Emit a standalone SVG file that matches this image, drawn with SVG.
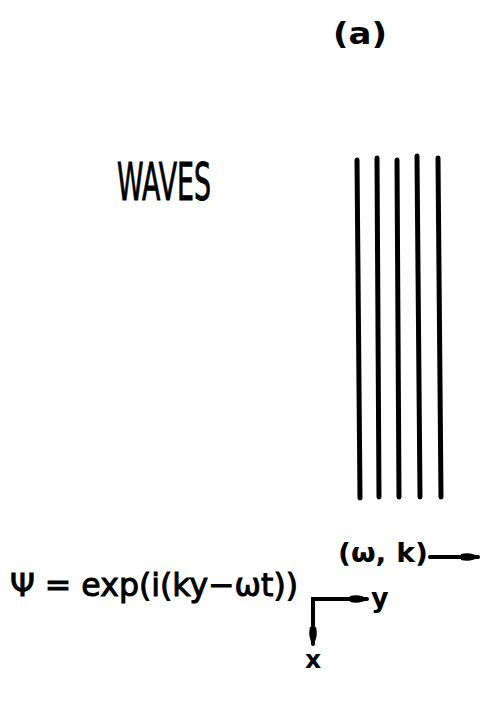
<svg xmlns="http://www.w3.org/2000/svg" width="482" height="703" viewBox="0 0 482 703">
<style>
.hand{font-family:"DejaVu Sans","Liberation Sans",sans-serif;fill:#000}
.thick{stroke:#000;stroke-width:1}
.wave{stroke:#000;stroke-width:5;stroke-linecap:round;fill:none}
.ln{stroke:#000;stroke-width:4;stroke-linecap:round;fill:none}
</style>
<defs>
<marker id="ah" viewBox="0 0 18 11" refX="17" refY="5.5" markerWidth="18" markerHeight="11" orient="auto" markerUnits="userSpaceOnUse">
<path d="M0,2.5 Q10,0 18,5.5 Q10,11 0,8.5 Z" fill="#000"/>
</marker>
</defs>
<rect width="482" height="703" fill="#fff"/>
<text class="hand" x="333" y="44" font-size="31" font-weight="bold" textLength="54" lengthAdjust="spacingAndGlyphs">(a)</text>
<text class="hand thick" x="117" y="200" font-size="52" textLength="94" lengthAdjust="spacingAndGlyphs">WAVES</text>
<g id="waves">
<path class="wave" d="M357,160 L360,498"/>
<path class="wave" d="M377,158 L379,497"/>
<path class="wave" d="M397,160 L399,497"/>
<path class="wave" d="M417,156 L420,497"/>
<path class="wave" d="M438,158 L441,497"/>
</g>
<text class="hand thick" x="10" y="596" font-size="32" textLength="288" lengthAdjust="spacingAndGlyphs">Ψ = exp(i(ky−ωt))</text>
<text class="hand" x="338" y="562" font-size="27" font-weight="bold" textLength="90" lengthAdjust="spacingAndGlyphs">(ω, k)</text>
<g id="connectors">
<path class="ln" d="M430,557 L478,557" marker-end="url(#ah)"/>
<path class="ln" d="M313,640 L313,599 L367,599" marker-end="url(#ah)"/>
<path class="ln" d="M313,601 L313,644" marker-end="url(#ah)"/>
</g>
<text class="hand" x="371" y="607" font-size="27" font-weight="bold">y</text>
<text class="hand" x="305" y="668" font-size="25" font-weight="bold">x</text>
</svg>
